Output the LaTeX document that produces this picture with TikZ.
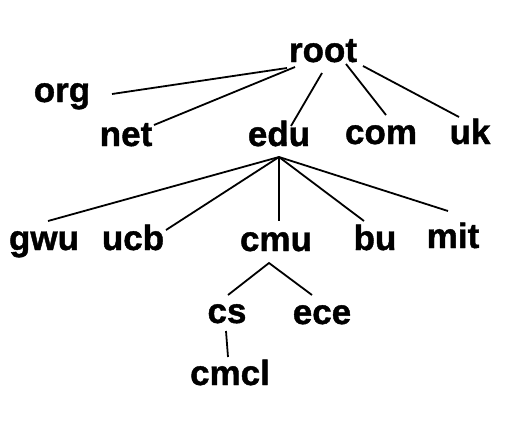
\documentclass[tikz,border=0pt]{standalone}
\usepackage{fontspec}
\setmainfont{Liberation Sans}[BoldFeatures={FakeBold=1.2}]
\tikzset{lbl/.style={anchor=base,inner sep=0pt,font=\fontsize{35}{40}\selectfont\bfseries},
  br/.style={line width=1.8pt}}
\begin{document}
\begin{tikzpicture}[x=1pt,y=-1pt]
\useasboundingbox (0,0) rectangle (512,440);
% labels
\node[lbl] (root) at (323,62) {root};
\node[lbl] (org) at (62,102) {org};
\node[lbl] (net) at (126,146) {net};
\node[lbl] (edu) at (279,146) {edu};
\node[lbl] (com) at (381,144) {com};
\node[lbl] (uk) at (470,144) {uk};
\node[lbl] (gwu) at (44,250) {gwu};
\node[lbl] (ucb) at (133,250) {ucb};
\node[lbl] (cmu) at (276,251) {cmu};
\node[lbl] (bu) at (375,250) {bu};
\node[lbl] (mit) at (453,248) {mit};
\node[lbl] (cs) at (227,323) {cs};
\node[lbl] (ece) at (322,324) {ece};
\node[lbl] (cmcl) at (230,385) {cmcl};
% branch ends under root
\coordinate (root-org) at (287,68);
\coordinate (root-net) at (295,67);
\coordinate (root-edu) at (322,73);
\coordinate (root-com) at (346,64);
\coordinate (root-uk) at (363,66);
\coordinate (org-top) at (112,94);
\coordinate (net-top) at (154,125);
\coordinate (edu-top) at (291,126);
\coordinate (com-top) at (386,115);
\coordinate (uk-top) at (459,117);
% branch ends under edu
\coordinate (edu-hub) at (279,157);
\coordinate (gwu-top) at (48,221);
\coordinate (ucb-top) at (166,230);
\coordinate (cmu-top) at (279,221);
\coordinate (bu-top) at (364,221);
\coordinate (mit-top) at (448,211);
% cmu and cs
\coordinate (cmu-hub) at (269,263);
\coordinate (cs-top) at (228,295);
\coordinate (ece-top) at (312,295);
\coordinate (cs-bot) at (226,331);
\coordinate (cmcl-top) at (228,357);
\draw[br] (root-org) -- (org-top);
\draw[br] (root-net) -- (net-top);
\draw[br] (root-edu) -- (edu-top);
\draw[br] (root-com) -- (com-top);
\draw[br] (root-uk) -- (uk-top);
\foreach \c in {gwu,ucb,cmu,bu,mit}
  \draw[br] (edu-hub) -- (\c-top);
\draw[br] (cs-top) -- (cmu-hub) -- (ece-top);
\draw[br] (cs-bot) -- (cmcl-top);
\end{tikzpicture}
\end{document}
